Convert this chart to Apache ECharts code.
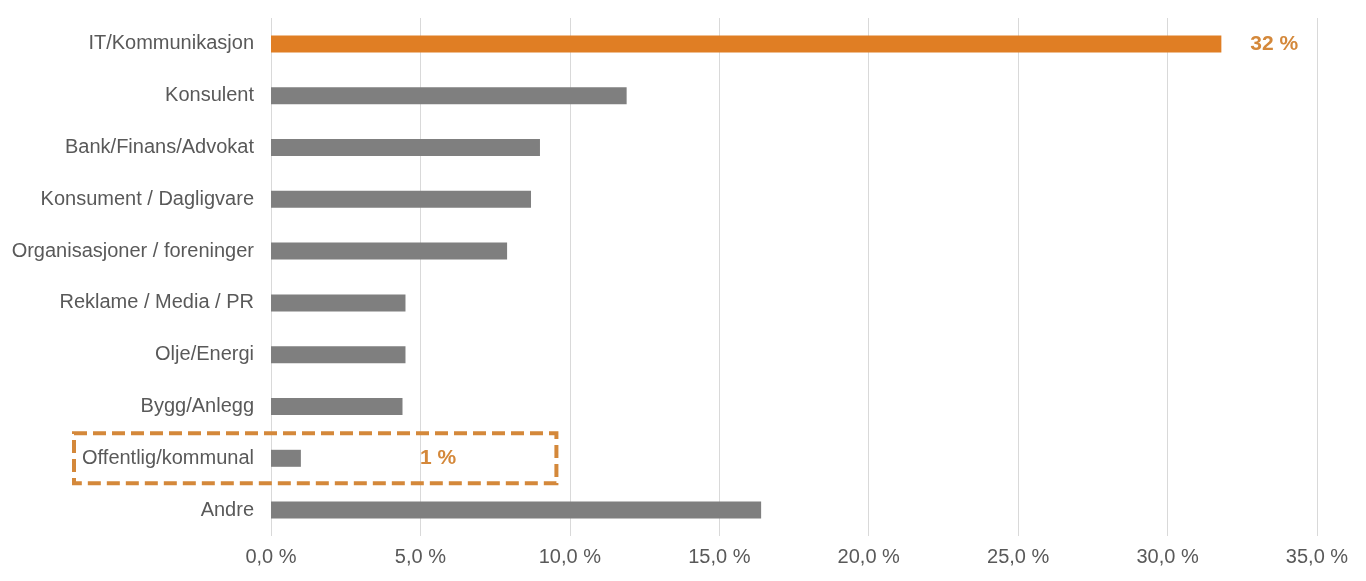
<!DOCTYPE html>
<html><head><meta charset="utf-8">
<script src="https://cdn.jsdelivr.net/npm/echarts@6/dist/echarts.min.js"></script>
<style>html,body{margin:0;padding:0;background:#fff}#c{width:1366px;height:581px}</style>
</head><body><div id="c"></div>
<script>
const categories = ["IT/Kommunikasjon","Konsulent","Bank/Finans/Advokat","Konsument / Dagligvare","Organisasjoner / foreninger","Reklame / Media / PR","Olje/Energi","Bygg/Anlegg","Offentlig/kommunal","Andre"];
const values = [31.8, 11.9, 9.0, 8.7, 7.9, 4.5, 4.5, 4.4, 1.0, 16.4];
const highlighted = ["IT/Kommunikasjon"];
const labelled = {"IT/Kommunikasjon": 29, "Offentlig/kommunal": 119};
const boxed = "Offentlig/kommunal";

const chart = echarts.init(document.getElementById('c'));
const orange = '#E07E24', labelOrange = '#D4883A', gray = '#7F7F7F';
const font = '"Liberation Sans", Arial, sans-serif';
const cats = categories.slice().reverse();
const vals = values.slice().reverse();
const data = cats.map((c, i) => {
  const d = {value: vals[i], itemStyle: {color: highlighted.includes(c) ? orange : gray}};
  if (labelled[c] !== undefined) {
    d.label = {show: true, position: 'right', distance: labelled[c], formatter: p => Math.round(p.value) + ' %',
      color: labelOrange, fontWeight: 'bold', fontSize: 21, fontFamily: font};
  }
  return d;
});
chart.setOption({
  animation: false,
  grid: {left: 271, right: 49, top: 18, bottom: 45},
  xAxis: {type: 'value', min: 0, max: 35, interval: 5,
    axisLine: {show: false}, axisTick: {show: false},
    splitLine: {lineStyle: {color: '#D9D9D9', width: 1}},
    axisLabel: {formatter: v => v.toFixed(1).replace('.', ',') + ' %', color: '#595959', fontSize: 20, margin: 11,
      fontFamily: font}},
  yAxis: {type: 'category', data: cats, axisLine: {show: false}, axisTick: {show: false},
    axisLabel: {color: '#595959', fontSize: 20, margin: 17, fontFamily: font}},
  series: [{type: 'bar', data: data, barWidth: 17}]
});
const y = chart.convertToPixel({yAxisIndex: 0}, boxed);
const xr = chart.convertToPixel({xAxisIndex: 0}, 9.55);
chart.setOption({graphic: [{type: 'rect', shape: {x: 74, y: y - 25, width: xr - 74, height: 50},
  style: {fill: 'none', stroke: '#D4883A', lineWidth: 4, lineDash: [13, 6]}}]});
</script></body></html>
